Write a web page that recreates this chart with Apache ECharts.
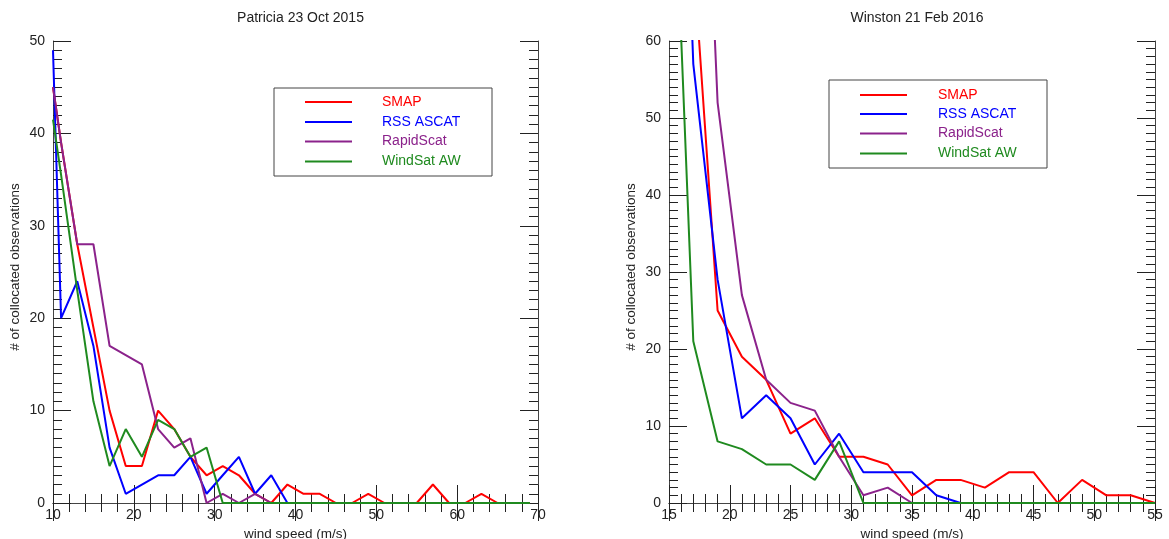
<!DOCTYPE html>
<html>
<head>
<meta charset="utf-8">
<script src="https://cdn.jsdelivr.net/npm/echarts@6/dist/echarts.min.js"></script>
<style>
html,body{margin:0;padding:0;background:#fff;}
#chart{width:1169px;height:539px;}
</style>
</head>
<body>
<div id="chart"></div>
<script>
// ---- Left panel: Patricia 23 Oct 2015 ----
const leftTitle = 'Patricia 23 Oct 2015';
const leftX = [10,11,13,15,17,19,21,23,25,27,29,31,33,35,37,39,41,43,45,47,49,51,53,55,57,59,61,63,65,67,69];
const leftSMAP = [45,39,28,19,10,4,4,10,8,5,3,4,3,1,0,2,1,1,0,0,1,0,0,0,2,0,0,1,0,0,0];
const leftASCAT = [49,20,24,17,6,1,2,3,3,5,1,3,5,1,3,0];
const leftRapid = [45,39,28,28,17,16,15,8,6,7,0,1,0,1,0];
const leftWindSat = [41.5,35.5,23,11,4,8,5,9,8,5,6,0,0,0,0,0,0,0,0,0,0,0,0,0,0,0,0,0,0,0,0];

// ---- Right panel: Winston 21 Feb 2016 ----
const rightTitle = 'Winston 21 Feb 2016';
const rightX = [15,17,19,21,23,25,27,29,31,33,35,37,39,41,43,45,47,49,51,53,55];
const rightSMAP = [110,71,25,19,16,9,11,6,6,5,1,3,3,2,4,4,0,3,1,1,0];
const rightASCAT = [140,57,29,11,14,11,5,9,4,4,4,1,0];
const rightRapid = [150,125,52,27,16,13,12,6,1,2,0];
const rightWindSat = [100,21,8,7,5,5,3,8,0,0,0,0,0,0,0,0,0,0,0,0,0];

const seriesNames = ['SMAP','RSS ASCAT','RapidScat','WindSat AW'];
const seriesColors = ['#ff0000','#0000ff','#8b228b','#1f8a1f'];
const xLabel = 'wind speed (m/s)';
const yLabel = '# of collocated observations';

const FONT = 'Liberation Sans, Arial, Helvetica, sans-serif';
const pairs = (xs, ys) => ys.map((y, i) => [xs[i], y]);

function xAxes(gridIndex, min, max, interval, minorSplit) {
  const common = {
    gridIndex, type: 'value', min, max, interval,
    axisLine: {show: true, lineStyle: {color: '#444', width: 1}},
    axisTick: {show: true, inside: true, length: 18, lineStyle: {color: '#222', width: 1}},
    minorTick: {show: true, splitNumber: minorSplit, length: 9, lineStyle: {color: '#222', width: 1}},
    splitLine: {show: false}
  };
  return [
    Object.assign({}, common, {
      position: 'bottom',
      name: xLabel, nameLocation: 'middle', nameGap: 18,
      nameTextStyle: {fontSize: 13.5, color: '#222', fontFamily: FONT},
      axisLabel: {show: true, margin: 5, fontSize: 14, color: '#222', fontFamily: FONT}
    }),
    Object.assign({}, common, {position: 'top', axisLabel: {show: false}})
  ];
}
function yAxes(gridIndex, min, max, interval) {
  const common = {
    gridIndex, type: 'value', min, max, interval,
    axisLine: {show: true, lineStyle: {color: '#444', width: 1}},
    axisTick: {show: true, inside: true, length: 18, lineStyle: {color: '#222', width: 1}},
    minorTick: {show: true, splitNumber: 10, length: 9, lineStyle: {color: '#222', width: 1}},
    splitLine: {show: false}
  };
  return [
    Object.assign({}, common, {
      position: 'left',
      name: yLabel, nameLocation: 'middle', nameGap: 31,
      nameTextStyle: {fontSize: 13.5, color: '#222', fontFamily: FONT, padding: [0, 0, 0, 10]},
      axisLabel: {show: true, margin: 8, fontSize: 14, color: '#222', fontFamily: FONT}
    }),
    Object.assign({}, common, {position: 'right', axisLabel: {show: false}})
  ];
}

function lineSeries(name, color, data, axisIdx) {
  return {
    name, type: 'line', data, xAxisIndex: axisIdx, yAxisIndex: axisIdx,
    showSymbol: false, symbol: 'none', clip: true, silent: true,
    lineStyle: {color, width: 2}, itemStyle: {color}
  };
}

function legendGraphics(bx, by, bw, bh, lineX1, lineX2, textX, rowYs) {
  const els = [{
    type: 'rect', shape: {x: bx, y: by, width: bw, height: bh},
    style: {fill: 'rgba(0,0,0,0)', stroke: '#444', lineWidth: 1}, silent: true
  }];
  seriesNames.forEach((n, i) => {
    els.push({type: 'line', shape: {x1: lineX1, y1: rowYs[i], x2: lineX2, y2: rowYs[i]},
      style: {stroke: seriesColors[i], lineWidth: 2}, silent: true});
    els.push({type: 'text', style: {text: n, x: textX, y: rowYs[i], fill: seriesColors[i],
      font: '14px ' + FONT, verticalAlign: 'middle', align: 'left'}, silent: true});
  });
  return els;
}

const leftData = [leftSMAP, leftASCAT, leftRapid, leftWindSat];
const rightData = [rightSMAP, rightASCAT, rightRapid, rightWindSat];

const series = [];
seriesNames.forEach((n, i) => series.push(lineSeries(n, seriesColors[i], pairs(leftX, leftData[i]), 0)));
seriesNames.forEach((n, i) => series.push(lineSeries(n, seriesColors[i], pairs(rightX, rightData[i]), 2)));

const option = {
  animation: false,
  backgroundColor: '#fff',
  title: [
    {text: leftTitle, left: 295.5, top: 6, textAlign: 'center',
     textStyle: {fontSize: 14, fontWeight: 'normal', color: '#222', fontFamily: FONT}},
    {text: rightTitle, left: 912, top: 6, textAlign: 'center',
     textStyle: {fontSize: 14, fontWeight: 'normal', color: '#222', fontFamily: FONT}}
  ],
  grid: [
    {left: 53, top: 41, width: 485, height: 462, containLabel: false, outerBoundsMode: 'none'},
    {left: 669, top: 41, width: 486, height: 462, containLabel: false, outerBoundsMode: 'none'}
  ],
  xAxis: [].concat(xAxes(0, 10, 70, 10, 5), xAxes(1, 15, 55, 5, 5)),
  yAxis: [].concat(yAxes(0, 0, 50, 10), yAxes(1, 0, 60, 10)),
  series,
  graphic: [].concat(
    legendGraphics(274, 88, 218, 88, 305, 352, 382, [102, 122, 141.5, 161.5]),
    legendGraphics(829, 80, 218, 88, 860, 907, 938, [95, 114, 133.5, 153.5])
  )
};

const chart = echarts.init(document.getElementById('chart'), null, {renderer: 'canvas'});
chart.setOption(option);
</script>
</body>
</html>
